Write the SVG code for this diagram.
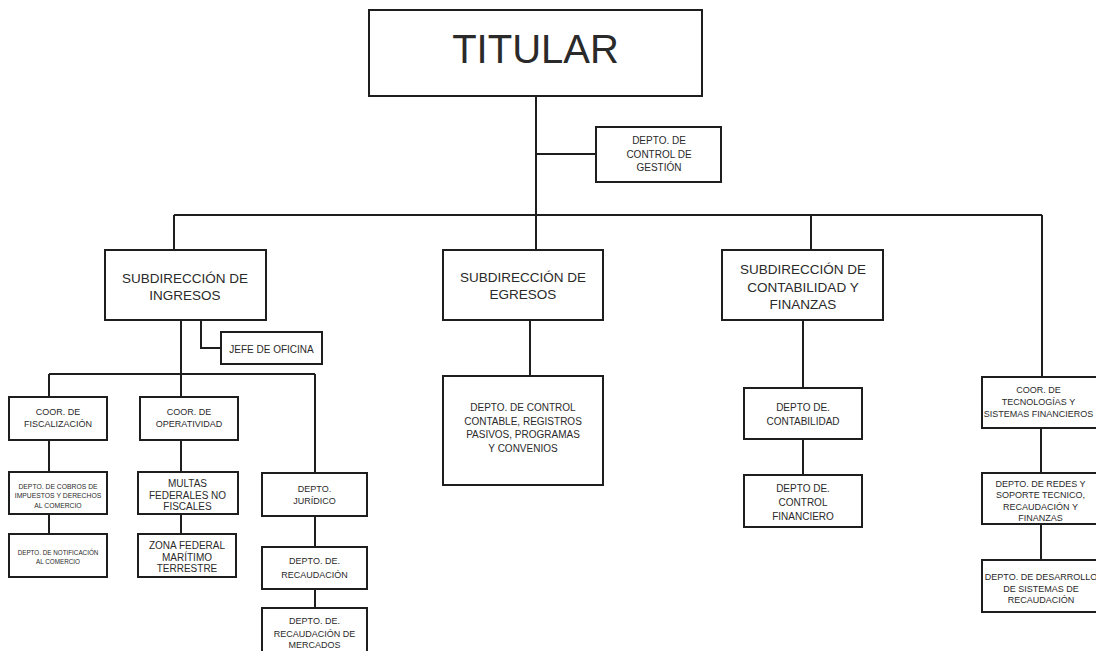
<svg xmlns="http://www.w3.org/2000/svg" width="1096" height="651" viewBox="0 0 1096 651">
<style>
.b{fill:#fff;stroke:#1e1e1e;stroke-width:2}
.c{fill:none;stroke:#1e1e1e;stroke-width:2}
text{font-family:"Liberation Sans",Arial,sans-serif;fill:#2a2a2a;text-anchor:middle}
.t1{font-size:40px}
.t2{font-size:13.5px}
.t3{font-size:10px}
.t4{font-size:9px}
.t5{font-size:6.8px}
.t6{font-size:6.3px}
</style>
<rect width="1096" height="651" fill="#fff"/>
<g id="connectors">
<path class="c" d="M536,96V215M536,154H596M174,215H1042M174,215V250M536,215V250M811,215V250M1042,215V377"/>
<path class="c" d="M181,320V374M201,320V348H221M49,374H315M49,374V397M181,374V397M315,374V473"/>
<path class="c" d="M49,440V472M49,514V534M181,440V472M181,514V534M315,516V547M315,589V608"/>
<path class="c" d="M530,320V376M803,320V388M803,439V475M1041,428V473M1041,524V560"/>
</g>
<g id="titular"><rect class="b" x="369" y="10" width="333" height="86"/><text class="t1" x="535.5" y="63">TITULAR</text></g>
<g id="gestion"><rect class="b" x="596" y="127" width="125" height="55"/><text class="t3" x="659" y="144">DEPTO. DE</text><text class="t3" x="659" y="158">CONTROL DE</text><text class="t3" x="659" y="171">GESTIÓN</text></g>
<g id="ingresos"><rect class="b" x="105" y="250" width="161" height="70"/><text class="t2" x="185" y="283">SUBDIRECCIÓN DE</text><text class="t2" x="185" y="300">INGRESOS</text></g>
<g id="egresos"><rect class="b" x="443" y="250" width="160" height="70"/><text class="t2" x="523" y="282">SUBDIRECCIÓN DE</text><text class="t2" x="523" y="299">EGRESOS</text></g>
<g id="contabilidad"><rect class="b" x="722" y="250" width="161" height="70"/><text class="t2" x="803" y="274">SUBDIRECCIÓN DE</text><text class="t2" x="803" y="291.5">CONTABILIDAD Y</text><text class="t2" x="803" y="309">FINANZAS</text></g>
<g id="jefe"><rect class="b" x="221" y="332" width="101" height="32"/><text class="t3" x="271.5" y="352.5">JEFE DE OFICINA</text></g>
<g id="fiscalizacion"><rect class="b" x="9" y="397" width="98" height="43"/><text class="t4" x="58" y="415">COOR. DE</text><text class="t4" x="58" y="427">FISCALIZACIÓN</text></g>
<g id="operatividad"><rect class="b" x="140" y="397" width="98" height="43"/><text class="t4" x="189" y="415">COOR. DE</text><text class="t4" x="189" y="427">OPERATIVIDAD</text></g>
<g id="cobros"><rect class="b" x="9" y="472" width="98" height="42"/><text class="t5" x="58" y="488.5">DEPTO. DE COBROS DE</text><text class="t5" x="58" y="498">IMPUESTOS Y DERECHOS</text><text class="t5" x="58" y="507.5">AL COMERCIO</text></g>
<g id="notificacion"><rect class="b" x="9" y="534" width="98" height="43"/><text class="t6" x="58" y="555">DEPTO. DE NOTIFICACIÓN</text><text class="t6" x="58" y="564">AL COMERCIO</text></g>
<g id="multas"><rect class="b" x="138" y="472" width="100" height="42"/><text class="t3" x="187.5" y="487">MULTAS</text><text class="t3" x="187.5" y="498.5">FEDERALES NO</text><text class="t3" x="187.5" y="510">FISCALES</text></g>
<g id="zona"><rect class="b" x="138" y="534" width="98" height="43"/><text class="t3" x="187" y="549">ZONA FEDERAL</text><text class="t3" x="187" y="560.5">MARÍTIMO</text><text class="t3" x="187" y="572">TERRESTRE</text></g>
<g id="juridico"><rect class="b" x="262" y="473" width="105" height="43"/><text class="t4" x="314.5" y="492">DEPTO.</text><text class="t4" x="314.5" y="504">JURÍDICO</text></g>
<g id="recaudacion"><rect class="b" x="262" y="547" width="105" height="42"/><text class="t4" x="314.5" y="564">DEPTO. DE.</text><text class="t4" x="314.5" y="577.5">RECAUDACIÓN</text></g>
<g id="mercados"><rect class="b" x="262" y="608" width="105" height="50"/><text class="t4" x="314.5" y="624">DEPTO. DE.</text><text class="t4" x="314.5" y="637">RECAUDACIÓN DE</text><text class="t4" x="314.5" y="648">MERCADOS</text></g>
<g id="control-contable"><rect class="b" x="443" y="376" width="160" height="109"/><text class="t3" x="523" y="411">DEPTO. DE CONTROL</text><text class="t3" x="523" y="424.5">CONTABLE, REGISTROS</text><text class="t3" x="523" y="438">PASIVOS, PROGRAMAS</text><text class="t3" x="523" y="451.5">Y CONVENIOS</text></g>
<g id="depto-contabilidad"><rect class="b" x="744" y="388" width="118" height="51"/><text class="t3" x="803" y="411">DEPTO DE.</text><text class="t3" x="803" y="425">CONTABILIDAD</text></g>
<g id="control-financiero"><rect class="b" x="744" y="475" width="118" height="52"/><text class="t3" x="803" y="492">DEPTO DE.</text><text class="t3" x="803" y="506">CONTROL</text><text class="t3" x="803" y="519.5">FINANCIERO</text></g>
<g id="tecnologias"><rect class="b" x="982" y="377" width="120" height="51"/><text class="t4" x="1038.5" y="393">COOR. DE</text><text class="t4" x="1038.5" y="405">TECNOLOGÍAS Y</text><text class="t4" x="1038.5" y="417">SISTEMAS FINANCIEROS</text></g>
<g id="redes"><rect class="b" x="982" y="473" width="120" height="51"/><text class="t4" x="1040.5" y="486.5">DEPTO. DE REDES Y</text><text class="t4" x="1040.5" y="498">SOPORTE TECNICO,</text><text class="t4" x="1040.5" y="509.5">RECAUDACIÓN Y</text><text class="t4" x="1040.5" y="521">FINANZAS</text></g>
<g id="desarrollo"><rect class="b" x="982" y="560" width="120" height="52"/><text class="t4" x="1041" y="580">DEPTO. DE DESARROLLO</text><text class="t4" x="1041" y="591.5">DE SISTEMAS DE</text><text class="t4" x="1041" y="602.5">RECAUDACIÓN</text></g>
</svg>
